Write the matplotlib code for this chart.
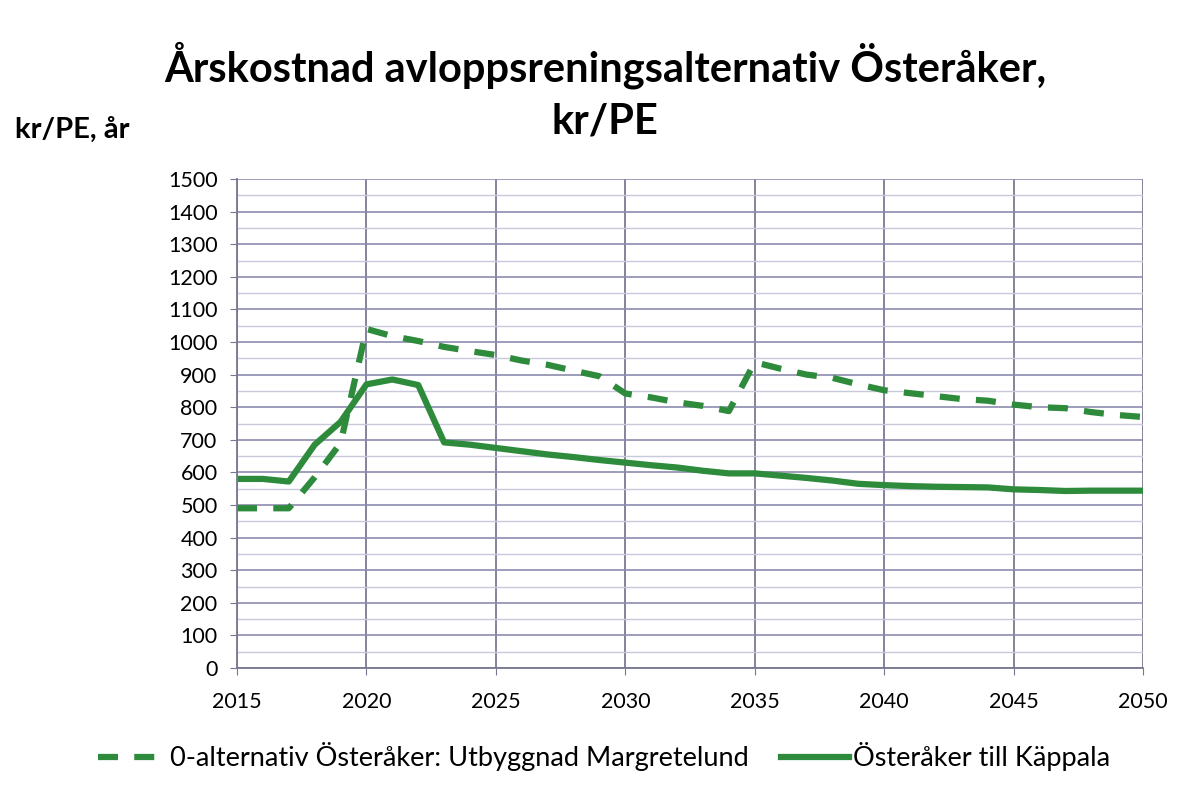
import matplotlib
matplotlib.use("Agg")
import matplotlib.pyplot as plt
from matplotlib.ticker import MultipleLocator

years = list(range(2015, 2051))
alt0 = [490, 490, 490, 585, 690, 1040, 1018, 1003, 985, 972, 960, 943, 930, 912,
        895, 842, 830, 815, 804, 788, 938, 918, 900, 890, 870, 852, 843, 834, 825,
        820, 808, 800, 797, 785, 776, 770]
kappala = [580, 580, 572, 685, 755, 870, 885, 868, 692, 685, 675, 665, 655, 647,
           638, 630, 622, 615, 605, 597, 597, 590, 583, 575, 565, 561, 558, 556,
           555, 554, 548, 546, 543, 544, 544, 544]
label_alt0 = "0-alternativ Österåker: Utbyggnad Margretelund"
label_kap = "Österåker till Käppala"
title1 = "Årskostnad avloppsreningsalternativ Österåker,"
title2 = "kr/PE"
ylabel = "kr/PE, år"

plt.rcParams['font.family'] = ['Lato', 'DejaVu Sans']
green = '#2e8b3c'

fig = plt.figure(figsize=(11.84, 7.91), dpi=100)
ax = fig.add_axes([0.2002, 0.1555, 0.7652, 0.6182])

ax.plot(years, alt0, color=green, lw=4.5, ls=(0, (3.2, 2.6)), label=label_alt0)
ax.plot(years, kappala, color=green, lw=4.5, label=label_kap)

ax.set_xlim(2015, 2050)
ax.set_ylim(0, 1500)
ax.xaxis.set_major_locator(MultipleLocator(5))
ax.yaxis.set_major_locator(MultipleLocator(100))
ax.yaxis.set_minor_locator(MultipleLocator(50))
ax.grid(True, which='major', axis='y', color='#8c8cae', lw=1.2)
ax.grid(True, which='minor', axis='y', color='#c9c9dc', lw=1.0)
ax.grid(True, which='major', axis='x', color='#6e6e8a', lw=1.2)
ax.set_axisbelow(True)
for s in ['top', 'right']:
    ax.spines[s].set_visible(False)
ax.spines['left'].set_color('#777790')
ax.spines['bottom'].set_color('#777790')
ax.spines['left'].set_linewidth(1.3)
ax.spines['bottom'].set_linewidth(1.3)
ax.tick_params(axis='both', which='major', labelsize=15.5, length=5, color='#777790')
ax.tick_params(axis='x', which='major', pad=12)
ax.tick_params(axis='y', which='major', pad=9)
ax.tick_params(axis='y', which='minor', length=0)

fig.text(0.511, 0.918, title1, ha='center', va='center', fontsize=30, fontweight='bold')
fig.text(0.511, 0.846, title2, ha='center', va='center', fontsize=30, fontweight='bold')
fig.text(0.013, 0.836, ylabel, ha='left', va='center', fontsize=21, fontweight='bold')

handles, labels = ax.get_legend_handles_labels()
fig.legend(handles, labels, loc='center', bbox_to_anchor=(0.51, 0.043), ncol=2,
           frameon=False, fontsize=19.5, handlelength=2.5, handletextpad=0.15,
           columnspacing=1.2)

fig.savefig("out.png", dpi=100)
